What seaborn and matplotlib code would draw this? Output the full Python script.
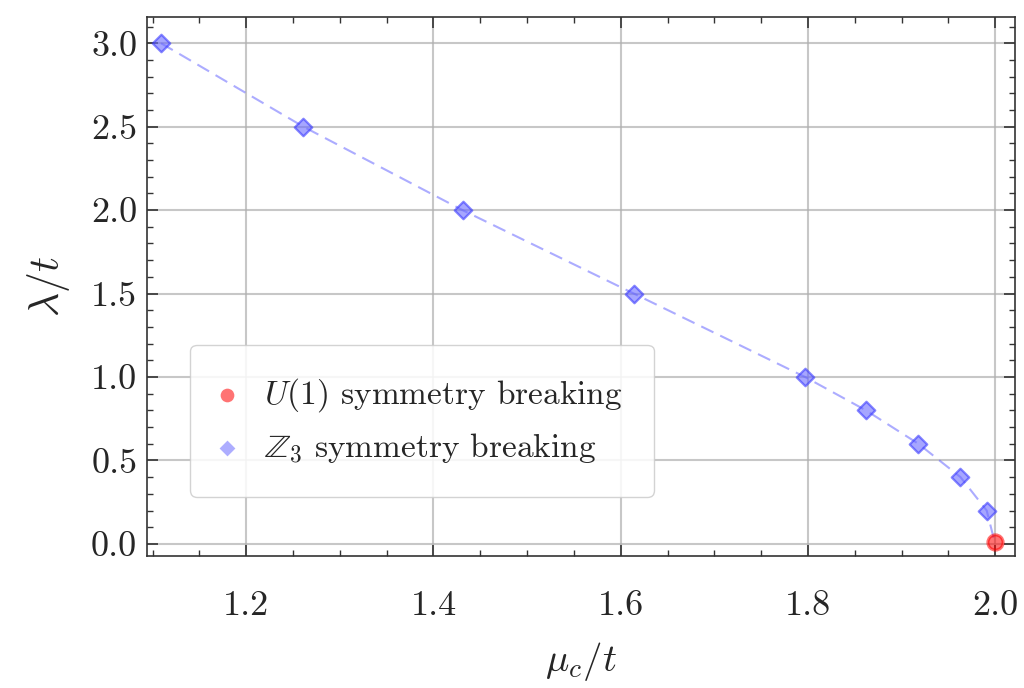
import numpy as np
import pandas as pd
import seaborn as sns
import matplotlib.pyplot as plt
from matplotlib.ticker import MultipleLocator

# Critical points
mu_z3 = [1.109, 1.261, 1.431, 1.614, 1.797, 1.862, 1.918, 1.963, 1.991, 2.0]
lam_z3 = [3.0, 2.5, 2.0, 1.5, 1.0, 0.8, 0.6, 0.4, 0.2, 0.0]
mu_u1 = [2.0]
lam_u1 = [0.01]

z3 = pd.DataFrame({'mu': mu_z3, 'lam': lam_z3})
u1 = pd.DataFrame({'mu': mu_u1, 'lam': lam_u1})

sns.set_theme(style='ticks')
plt.rcParams.update({
    'font.family': 'serif',
    'font.serif': ['cmr10', 'DejaVu Serif'],
    'mathtext.fontset': 'cm',
    'axes.formatter.use_mathtext': True,
    'axes.unicode_minus': False,
    'xtick.direction': 'in',
    'ytick.direction': 'in',
    'xtick.top': True,
    'ytick.right': True,
    'xtick.minor.visible': True,
    'ytick.minor.visible': True,
})

fig, ax = plt.subplots(figsize=(10.24, 6.88), dpi=100)
fig.subplots_adjust(left=0.1436, right=0.991, bottom=0.192, top=0.975)

# dashed guide through the Z3 points
sns.lineplot(data=z3, x='mu', y='lam', ax=ax, color='#5a5aff', alpha=0.5,
             linewidth=1.5, dashes=False, legend=False, sort=False).lines[0].set_dashes((6.5, 3.6))
sns.scatterplot(data=u1, x='mu', y='lam', ax=ax, color='red', marker='o', s=120,
                alpha=0.55, edgecolor='red', linewidth=2.2, label=r'$U(1)$ symmetry breaking', zorder=4)
sns.scatterplot(data=z3.iloc[:-1], x='mu', y='lam', ax=ax, color='#6b6bff', marker='D', s=80,
                alpha=0.6, edgecolor='#3a3aff', linewidth=1.6, label=r'$\mathbb{Z}_3$ symmetry breaking', zorder=3)

ax.set_xlim(1.094, 2.021)
ax.set_ylim(-0.072, 3.156)
ax.xaxis.set_major_locator(MultipleLocator(0.2))
ax.xaxis.set_minor_locator(MultipleLocator(0.05))
ax.yaxis.set_major_locator(MultipleLocator(0.5))
ax.yaxis.set_minor_locator(MultipleLocator(0.1))
ax.xaxis.set_major_formatter(plt.FuncFormatter(lambda v, p: f'{v:.1f}'))
ax.yaxis.set_major_formatter(plt.FuncFormatter(lambda v, p: f'{v:.1f}'))

ax.grid(True, which='major', color='#b0b0b0', linewidth=1.5, alpha=0.7)
ax.tick_params(which='major', length=8, width=1.2, labelsize=26, pad=7, color='#333333')
ax.tick_params(which='minor', length=4, width=1.0, color='#333333')
ax.tick_params(axis='x', pad=25)
for sp in ax.spines.values():
    sp.set_linewidth(1.2)
    sp.set_color('#333333')

ax.set_xlabel(r'$\mu_c/t$', fontsize=28, labelpad=13)
ax.set_ylabel(r'$\lambda/t$', fontsize=30, labelpad=14)

leg = ax.legend(loc='lower left', bbox_to_anchor=(0.05, 0.11), borderaxespad=0,
                fontsize=24, frameon=True, fancybox=True, framealpha=0.85,
                edgecolor='#cccccc', borderpad=0.95, handlelength=0.3,
                handletextpad=0.95, labelspacing=0.5, markerscale=0.9)
for h in leg.legend_handles:
    h.set_alpha(0.55)
    h.set_linewidth(0)

fig.savefig('out.png', dpi=100)
